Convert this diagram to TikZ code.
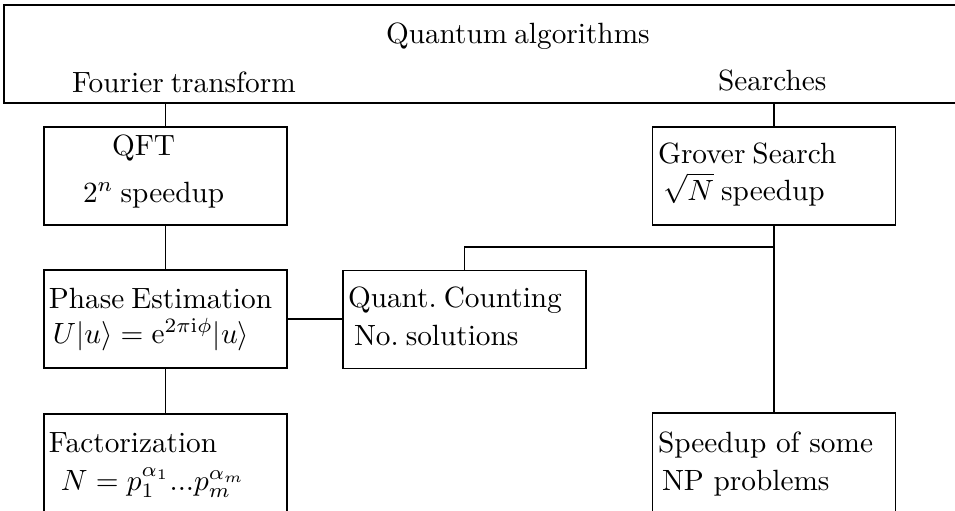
\documentclass[tikz,border=0pt]{standalone}
\usepackage{amsmath}
\newcommand\tsp{\hspace{2.4pt}}
\begin{document}
\begin{tikzpicture}[x=0.3413pt,y=-0.3413pt,
  box/.style={draw, line width=0.4pt, inner sep=0pt, outer sep=0pt, minimum width=82.9pt, minimum height=33.4pt},
  tall/.style={box, minimum height=47.8pt},
  lbl/.style={inner sep=0pt, outer sep=0pt, anchor=base west, font=\fontsize{10}{12}\selectfont},
  conn/.style={draw, line width=0.4pt}]
\useasboundingbox (0,0) rectangle (955,511);
\clip (0,0) rectangle (955,511);
% boxes
\node[box, minimum width=348.1pt] (top) at (514,54) {};
\node[box] (qft) at (165.5,176) {};
\node[box] (phase) at (165.5,319) {};
\node[tall] (fact) at (165.5,484) {};
\node[box] (quant) at (464.5,319.5) {};
\node[box] (grover) at (774,176) {};
\node[tall] (np) at (774,483) {};
% texts
\node[lbl] (tq) at (386,43) {Quantum\tsp algorithms};
\node[lbl] (tf) at (72,92) {Fourier\tsp transform};
\node[lbl] (ts) at (718,90) {Searches};
\node[lbl] (t1) at (112,155) {QFT};
\node[lbl] (t2) at (83,202) {$2^n$\tsp speedup};
\node[lbl] (t3) at (49,308) {Phase\tsp Estimation};
\node[lbl] (t4) at (53,343) {$U|u\rangle=\mathrm{e}^{2\pi\mathrm{i}\phi}|u\rangle$};
\node[lbl] (t5) at (49,452) {Factorization};
\node[lbl] (t6) at (61,490) {$N=p_1^{\alpha_1}...p_m^{\alpha_m}$};
\node[lbl] (t7) at (348,307) {Quant.\tsp Counting};
\node[lbl] (t8) at (354,345) {No.\tsp solutions};
\node[lbl] (t9) at (658,163) {Grover\tsp Search};
\node[lbl] (t10) at (663,200) {$\sqrt{N}$\tsp speedup};
\node[lbl] (t11) at (658,452) {Speedup of some};
\node[lbl] (t12) at (662,490) {NP problems};
% connectors
\coordinate (br) at (774,247);
\draw[conn] (top.south -| qft.north) -- (qft.north);
\draw[conn] (qft.south) -- (phase.north);
\draw[conn] (phase.south) -- (fact.north);
\draw[conn] (phase.east) -- (quant.west |- phase.east);
\draw[conn] (top.south -| grover.north) -- (grover.north);
\draw[conn] (grover.south) -- (np.north);
\draw[conn] (br) -| (quant.north);
\end{tikzpicture}
\end{document}
